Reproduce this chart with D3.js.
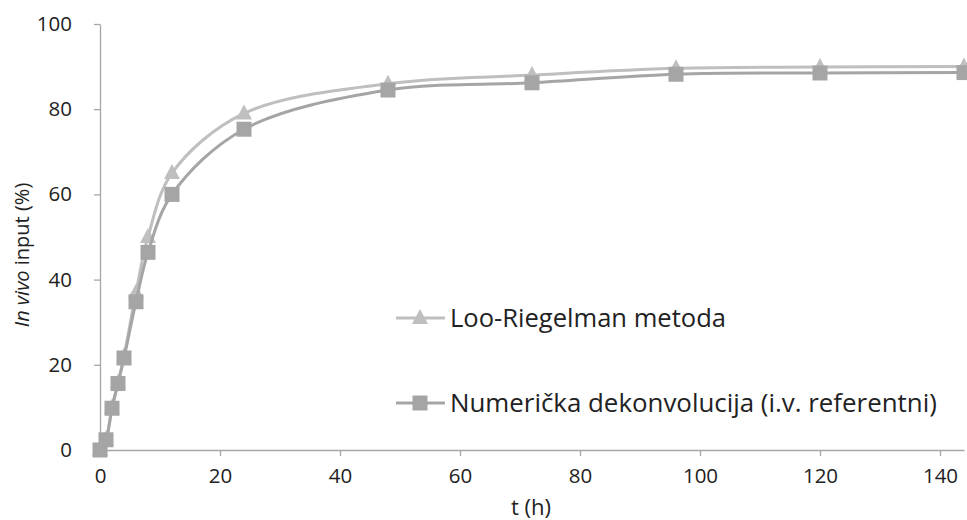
<!DOCTYPE html>
<html>
<head>
<meta charset="utf-8">
<script src="https://cdn.jsdelivr.net/npm/d3@7"></script>
<style>
  body { margin: 0; background: #fff; }
  text { font-family: "Open Sans", sans-serif; fill: #222; }
</style>
</head>
<body>
<div id="chart"></div>
<script>
// sampling times (h)
var times = [0, 1, 2, 3, 4, 6, 8, 12, 24, 48, 72, 96, 120, 144];
// Loo-Riegelman metoda
var looRiegelman = [0, 2.5, 10, 15.8, 22, 37, 50, 65, 79, 86, 88, 89.6, 89.9, 90];
// Numerička dekonvolucija (i.v. referentni)
var deconvolution = [0, 2.4, 9.8, 15.6, 21.6, 34.8, 46.4, 60, 75.3, 84.5, 86.2, 88.2, 88.5, 88.6];
var xTicks = [0, 20, 40, 60, 80, 100, 120, 140];
var yTicks = [0, 20, 40, 60, 80, 100];

var width = 967, height = 520;
var svg = d3.select("#chart").append("svg")
    .attr("width", width).attr("height", height);

var x = d3.scaleLinear().domain([0, 144]).range([100, 964]);
var y = d3.scaleLinear().domain([0, 100]).range([450, 24]);
var axisColor = "#a6a6a6";

// x axis
var gx = svg.append("g").attr("transform", "translate(0," + y(0) + ")")
    .call(d3.axisBottom(x).tickValues(xTicks).tickSize(6).tickSizeOuter(0).tickPadding(12));
gx.select(".domain").attr("stroke", axisColor).attr("stroke-width", 1.3);
gx.selectAll(".tick line").attr("stroke", axisColor).attr("stroke-width", 1.3);
gx.selectAll(".tick text").style("font-size", "20.5px").attr("fill", "#222");

// y axis
var gy = svg.append("g").attr("transform", "translate(" + x(0) + ",0)")
    .call(d3.axisLeft(y).tickValues(yTicks).tickSize(6).tickSizeOuter(0).tickPadding(22));
gy.select(".domain").attr("stroke", axisColor).attr("stroke-width", 1.3);
gy.selectAll(".tick line").attr("stroke", axisColor).attr("stroke-width", 1.3);
gy.selectAll(".tick text").style("font-size", "20.5px").attr("fill", "#222");

// axis titles
svg.append("text").attr("x", 531).attr("y", 515)
    .attr("text-anchor", "middle").style("font-size", "22px").text("t (h)");
var yt = svg.append("text").attr("transform", "translate(29,255) rotate(-90)")
    .attr("text-anchor", "middle").style("font-size", "20px");
yt.append("tspan").style("font-style", "italic").text("In vivo");
yt.append("tspan").text(" input (%)");

var series = [
  {name: "Loo-Riegelman metoda", values: looRiegelman, color: "#bfbfbf", marker: "triangle"},
  {name: "Numerička dekonvolucija (i.v. referentni)", values: deconvolution, color: "#a5a5a5", marker: "square"}
];

var line = d3.line()
    .x(function(d) { return x(d[0]); })
    .y(function(d) { return y(d[1]); })
    .curve(d3.curveCatmullRom.alpha(0.5));

function markerPath(type) {
  if (type === "triangle") return "M0,-9L8,6L-8,6Z";
  return "M-7.5,-7.5H7.5V7.5H-7.5Z";
}

series.forEach(function(s) {
  var pts = times.map(function(t, i) { return [t, s.values[i]]; });
  svg.append("path").datum(pts)
      .attr("fill", "none").attr("stroke", s.color).attr("stroke-width", 3)
      .attr("d", line);
  svg.selectAll(".m-" + s.marker).data(pts).enter().append("path")
      .attr("class", "m-" + s.marker)
      .attr("transform", function(d) { return "translate(" + x(d[0]) + "," + y(d[1]) + ")"; })
      .attr("d", markerPath(s.marker))
      .attr("fill", s.color);
});

// legend
var legendY = [318, 403];
var legendWidths = [276, 487];
series.forEach(function(s, i) {
  var g = svg.append("g").attr("transform", "translate(0," + legendY[i] + ")");
  g.append("line").attr("x1", 396).attr("x2", 445)
      .attr("stroke", s.color).attr("stroke-width", 3);
  g.append("path").attr("transform", "translate(420,0)")
      .attr("d", markerPath(s.marker)).attr("fill", s.color);
  var t = g.append("text").attr("x", 450).attr("dy", "0.35em")
      .style("font-size", "24px").text(s.name);
  var w = t.node().getComputedTextLength();
  t.style("font-size", (24 * legendWidths[i] / w).toFixed(2) + "px");
});
</script>
</body>
</html>
